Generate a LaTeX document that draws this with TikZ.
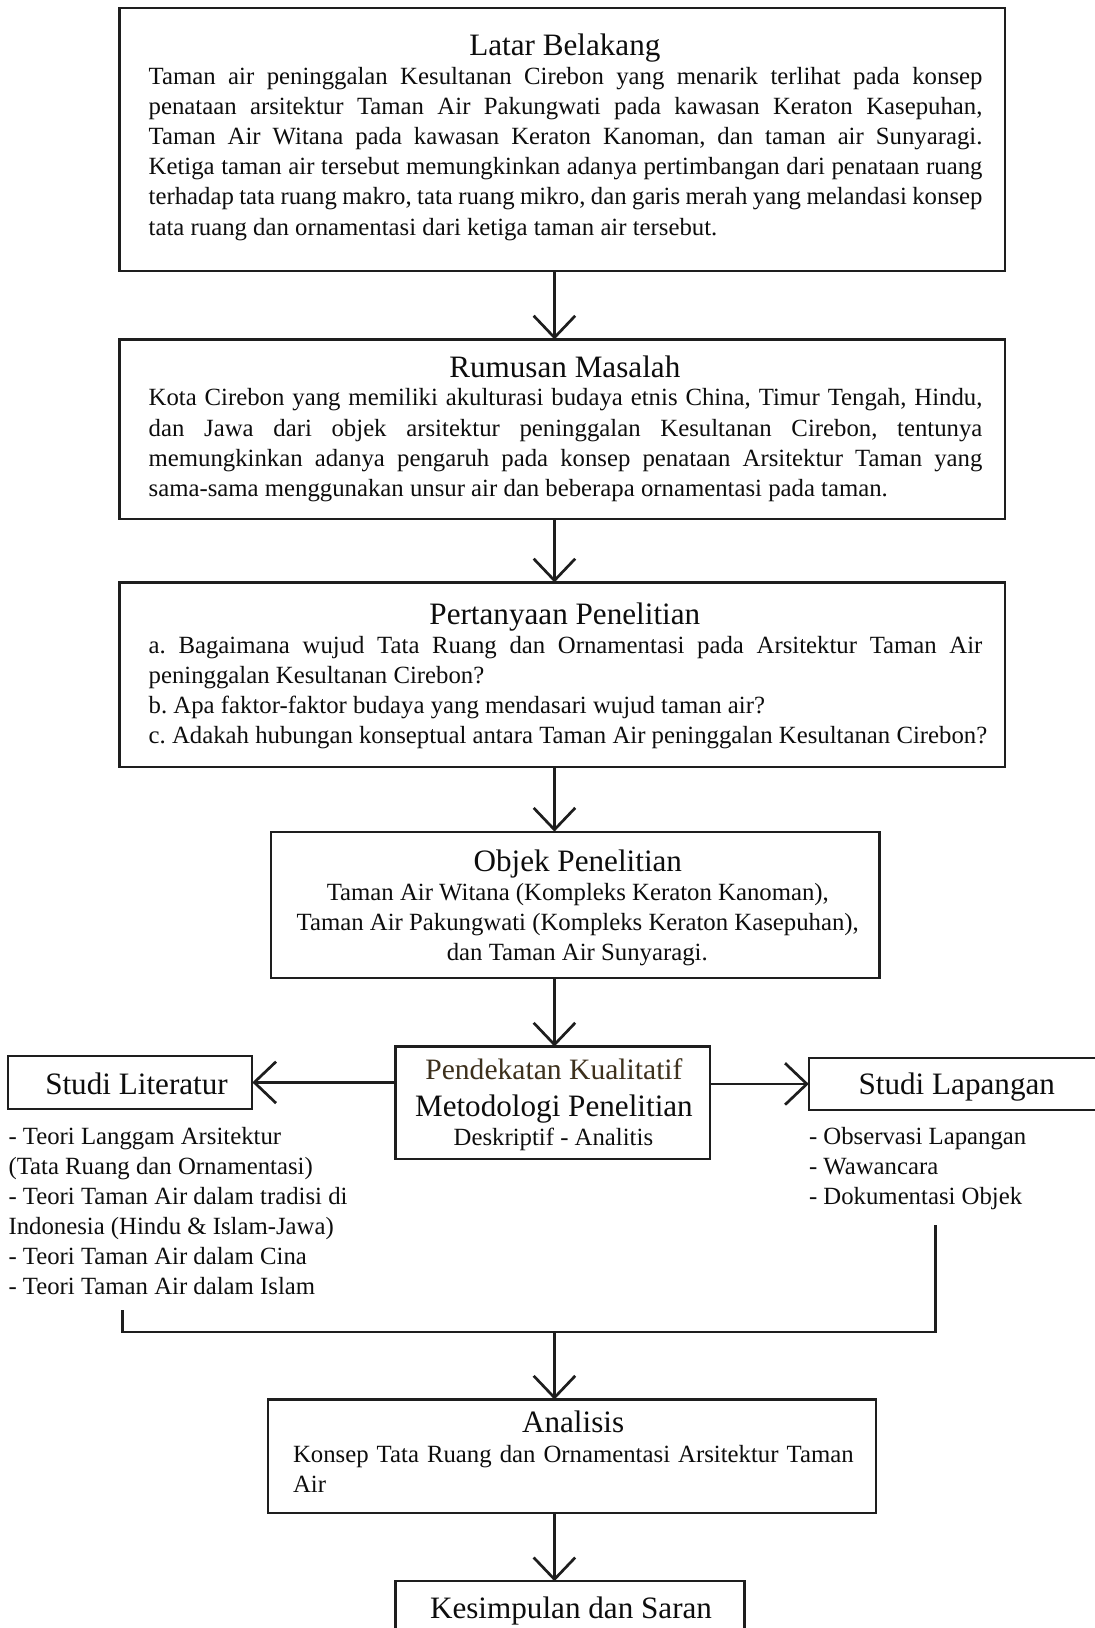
\documentclass[tikz,border=0pt]{standalone}
\usepackage{fontspec}
\setmainfont{Liberation Serif}
\usetikzlibrary{arrows.meta}
\definecolor{ink}{HTML}{1E1E1E}
\definecolor{txt}{HTML}{0D0D0D}
\definecolor{brownink}{HTML}{3D301C}
\newcommand{\bodyfs}{\fontsize{23.85}{28}\selectfont}
\newcommand{\headfs}{\fontsize{30}{34}\selectfont}
\newcommand{\jline}[2]{\makebox[#1pt][s]{#2}}
\frenchspacing
\begin{document}
\begin{tikzpicture}[x=1pt,y=-1pt,
  frame/.style={draw=ink, line width=2.2pt, inner sep=0pt, outer sep=0pt, rectangle},
  arr/.style={draw=ink, line width=2.6pt, -{Straight Barb[length=21pt,width=40pt]}},
  ln/.style={draw=ink, line width=2.6pt},
  body/.style={inner sep=0pt, text=txt, font=\bodyfs},
  head/.style={inner sep=0pt, text=txt, font=\headfs, anchor=base}]
\useasboundingbox (0,0) rectangle (1054,1568);
\coordinate (mx) at (534,0);

% boxes
\node[frame, minimum width=853pt, minimum height=253pt] (lb) at (541.5,134.5) {};
\node[frame, minimum width=853pt, minimum height=173pt] (rm) at (541.5,413.5) {};
\node[frame, minimum width=853pt, minimum height=178pt] (pp) at (541.5,650) {};
\node[frame, minimum width=586pt, minimum height=141pt] (op) at (554,871.5) {};
\node[frame, minimum width=303pt, minimum height=108pt] (mp) at (532.5,1062) {};
\node[frame, minimum width=235pt, minimum height=51pt] (sl) at (125.5,1042.5) {};
\node[frame, minimum width=277pt, minimum height=50pt] (sp) at (917.5,1044) {};
\node[frame, minimum width=586pt, minimum height=109pt] (an) at (551,1402.5) {};
\node[frame, minimum width=336pt, minimum height=49pt] (ks) at (549,1547.5) {};

% Latar Belakang
\node[head] (lbh) at (544,53.5) {Latar Belakang};
\node[body, anchor=base west] (lb1) at (143,81) {\jline{803}{Taman air peninggalan Kesultanan Cirebon yang menarik terlihat pada konsep}};
\node[body, anchor=base west] (lb2) at (143,110.1) {\jline{803}{penataan arsitektur Taman Air Pakungwati pada kawasan Keraton Kasepuhan,}};
\node[body, anchor=base west] (lb3) at (143,139.2) {\jline{803}{Taman Air Witana pada kawasan Keraton Kanoman, dan taman air Sunyaragi.}};
\node[body, anchor=base west] (lb4) at (143,168.3) {\jline{803}{Ketiga taman air tersebut memungkinkan adanya pertimbangan dari penataan ruang}};
\node[body, anchor=base west] (lb5) at (143,197.4) {\jline{803}{terhadap tata ruang makro, tata ruang mikro, dan garis merah yang melandasi konsep}};
\node[body, anchor=base west] (lb6) at (143,226.5) {tata ruang dan ornamentasi dari ketiga taman air tersebut.};

% Rumusan Masalah
\node[head] (rmh) at (544,363.5) {Rumusan Masalah};
\node[body, anchor=base west] (rm1) at (143,391) {\jline{803}{Kota Cirebon yang memiliki akulturasi budaya etnis China, Timur Tengah, Hindu,}};
\node[body, anchor=base west] (rm2) at (143,420) {\jline{803}{dan Jawa dari objek arsitektur peninggalan Kesultanan Cirebon, tentunya}};
\node[body, anchor=base west] (rm3) at (143,449) {\jline{803}{memungkinkan adanya pengaruh pada konsep penataan Arsitektur Taman yang}};
\node[body, anchor=base west] (rm4) at (143,478) {sama-sama menggunakan unsur air dan beberapa ornamentasi pada taman.};

% Pertanyaan Penelitian
\node[head] (pph) at (544,601.5) {Pertanyaan Penelitian};
\node[body, anchor=base west] (pp1) at (143,629) {\jline{803}{a. Bagaimana wujud Tata Ruang dan Ornamentasi pada Arsitektur Taman Air}};
\node[body, anchor=base west] (pp2) at (143,658) {peninggalan Kesultanan Cirebon?};
\node[body, anchor=base west] (pp3) at (143,687) {b. Apa faktor-faktor budaya yang mendasari wujud taman air?};
\node[body, anchor=base west] (pp4) at (143,716) {c. Adakah hubungan konseptual antara Taman Air peninggalan Kesultanan Cirebon?};

% Objek Penelitian
\node[head] (oph) at (556.5,839.5) {Objek Penelitian};
\node[body, anchor=base] (op1) at (556.5,867) {Taman Air Witana (Kompleks Keraton Kanoman),};
\node[body, anchor=base] (op2) at (556.5,896) {Taman Air Pakungwati (Kompleks Keraton Kasepuhan),};
\node[body, anchor=base] (op3) at (556,925) {dan Taman Air Sunyaragi.};

% Metodologi
\node[head, font=\fontsize{28.5}{32}\selectfont, text=brownink] (mp1) at (533.5,1040) {Pendekatan Kualitatif};
\node[head] (mp2) at (533.5,1075) {Metodologi Penelitian};
\node[body, anchor=base] (mp3) at (533,1103) {Deskriptif - Analitis};

% Studi
\node[head] (slh) at (131.5,1054.5) {Studi Literatur};
\node[head] (sph) at (921.5,1054.5) {Studi Lapangan};

\node[body, anchor=base west] (sl1) at (8,1102) {- Teori Langgam Arsitektur};
\node[body, anchor=base west] (sl2) at (8,1131) {(Tata Ruang dan Ornamentasi)};
\node[body, anchor=base west] (sl3) at (8,1160) {- Teori Taman Air dalam tradisi di};
\node[body, anchor=base west] (sl4) at (8,1189) {Indonesia (Hindu \& Islam-Jawa)};
\node[body, anchor=base west] (sl5) at (8,1218) {- Teori Taman Air dalam Cina};
\node[body, anchor=base west] (sl6) at (8,1247) {- Teori Taman Air dalam Islam};

\node[body, anchor=base west] (sp1) at (779,1102) {- Observasi Lapangan};
\node[body, anchor=base west] (sp2) at (779,1131) {- Wawancara};
\node[body, anchor=base west] (sp3) at (779,1160) {- Dokumentasi Objek};

% Analisis
\node[head] (anh) at (552,1379.5) {Analisis};
\node[body, anchor=base west] (an1) at (282,1408.5) {\jline{540}{Konsep Tata Ruang dan Ornamentasi Arsitektur Taman}};
\node[body, anchor=base west] (an2) at (282,1437.5) {Air};

% Kesimpulan
\node[head] (ksh) at (550,1559) {Kesimpulan dan Saran};

% connectors
\coordinate (jl) at (118,1262);
\coordinate (jr) at (901,1180);
\coordinate (jm) at (534,1283);
\draw[arr] (lb.south -| mx) -- (rm.north -| mx);
\draw[arr] (rm.south -| mx) -- (pp.north -| mx);
\draw[arr] (pp.south -| mx) -- (op.north -| mx);
\draw[arr] (op.south -| mx) -- (mp.north -| mx);
\draw[arr] (sl.east -| mp.west) -- (sl.east);
\draw[arr] (sp.west -| mp.east) -- (sp.west);
\draw[ln] (jl) |- (jm) -| (jr);
\draw[arr] (jm) -- (an.north -| mx);
\draw[arr] (an.south -| mx) -- (ks.north -| mx);
\end{tikzpicture}
\end{document}
